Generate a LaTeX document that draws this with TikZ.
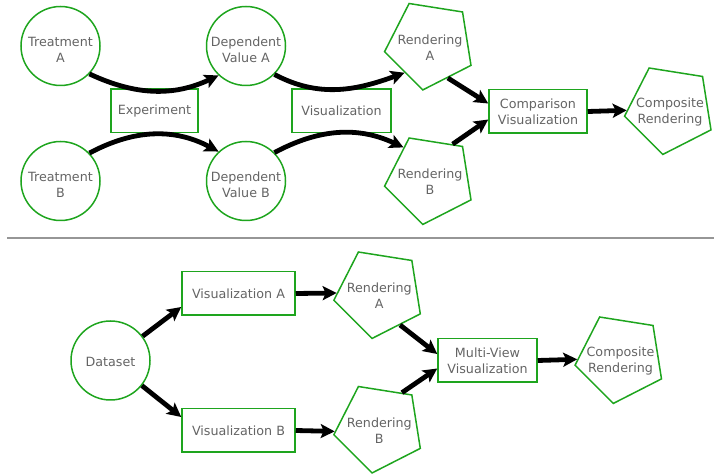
\documentclass[tikz,border=0pt]{standalone}
\usepackage{fontspec}
\setmainfont{DejaVu Sans}
\usetikzlibrary{shapes.geometric,arrows.meta}
\definecolor{gr}{RGB}{30,165,30}
\definecolor{tx}{RGB}{100,100,100}
\definecolor{dv}{RGB}{150,150,150}
\tikzset{
  txt/.style={text=tx,font=\fontsize{12.7}{16}\selectfont,align=center},
  circ/.style={circle,draw=gr,line width=1.5pt,minimum size=79pt,inner sep=0pt},
  boxn/.style={rectangle,draw=gr,line width=1.5pt,minimum height=43.5pt,inner sep=0pt,txt},
  pent/.style={regular polygon,regular polygon sides=5,shape border rotate=27,draw=gr,line width=1.5pt,minimum size=92pt,inner sep=0pt},
  ctext/.style={label={[txt,yshift=-4pt]center:#1}},
  ptext/.style={label={[txt,yshift=-3pt]center:#1}},
  arr/.style={line width=4.8pt,-{Stealth[length=14pt,width=14pt,inset=3pt]}}
}
\begin{document}
\begin{tikzpicture}[x=1pt,y=1pt]
\useasboundingbox (0,0) rectangle (714,476);
% top section
\node[circ,ctext={Treatment\\A}] (ta) at (60.5,430) {};
\node[circ,ctext={Treatment\\B}] (tb) at (60.5,295) {};
\node[circ,ctext={Dependent\\Value A}] (dva) at (246,430) {};
\node[circ,ctext={Dependent\\Value B}] (dvb) at (246,295) {};
\node[boxn,minimum width=87pt] (exp) at (154.5,365) {Experiment};
\node[boxn,minimum width=99pt] (vis) at (341.5,365) {Visualization};
\node[pent,ptext={Rendering\\A}] (ra) at (430,431.5) {};
\node[pent,ptext={Rendering\\B}] (rb) at (430,297) {};
\node[boxn,minimum width=98pt] (cmp) at (538,364.5) {Comparison\\Visualization};
\node[pent,ptext={Composite\\Rendering}] (ca) at (670,367) {};
\draw[arr] (ta.-44) to[out=-25,in=205] (dva.-133);
\draw[arr] (tb.44) to[out=28,in=152] (dvb.133);
\draw[arr] (dva.-45) to[out=-28,in=200] (ra.228);
\draw[arr] (dvb.45) to[out=28,in=155] (rb.130);
\draw[arr] (ra.-62) -- ([yshift=8pt]cmp.west);
\draw[arr] (rb.57) -- ([yshift=-8pt]cmp.west);
\draw[arr] (cmp.east) -- (ca);
% divider
\coordinate (d1) at (7,238);
\coordinate (d2) at (714,238);
\draw[dv,line width=2pt] (d1) -- (d2);
% bottom section
\node[circ,label={[txt,yshift=-1pt]center:Dataset}] (ds) at (110.5,115.5) {};
\node[boxn,minimum width=113pt] (visa) at (238.5,182.5) {Visualization A};
\node[boxn,minimum width=113pt] (visb) at (238.5,45.5) {Visualization B};
\node[pent,ptext={Rendering\\A}] (ra2) at (379.3,183) {};
\node[pent,ptext={Rendering\\B}] (rb2) at (379.3,48.5) {};
\node[boxn,minimum width=99pt] (mv) at (487.5,115.5) {Multi-View\\Visualization};
\node[pent,ptext={Composite\\Rendering}] (cb) at (620.5,118) {};
\draw[arr] (ds) -- ([yshift=9pt]visa.south west);
\draw[arr] (ds) -- ([yshift=-9pt]visb.north west);
\draw[arr] (visa.east) -- (ra2.180);
\draw[arr] (visb.east) -- (rb2.185);
\draw[arr] (ra2.-57) -- ([yshift=6.5pt]mv.west);
\draw[arr] (rb2.57) -- ([yshift=-8pt]mv.west);
\draw[arr] (mv.east) -- (cb);
\end{tikzpicture}
\end{document}
